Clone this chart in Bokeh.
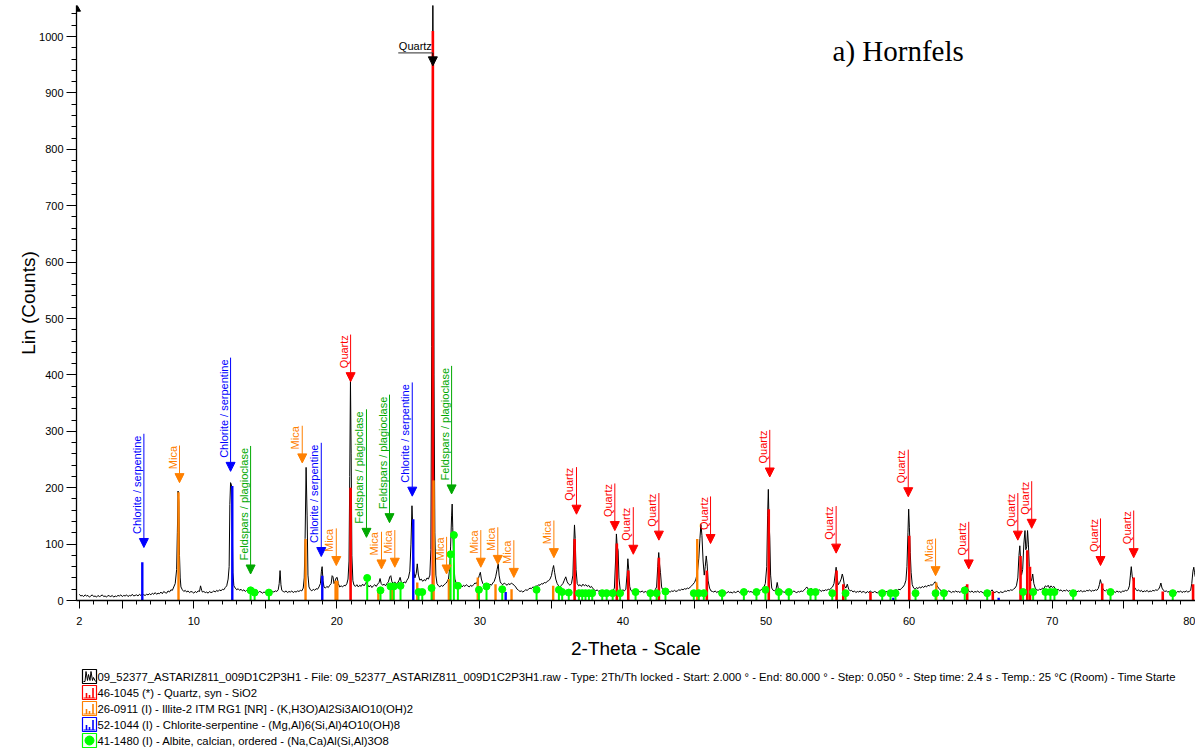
import math
from bokeh.plotting import figure
from bokeh.models import (Range1d, FixedTicker, CustomJSTickFormatter, Arrow,
                          NormalHead, ColumnDataSource)
from bokeh.layouts import column
from bokeh.core.properties import value
from bokeh.embed import file_html
from bokeh.resources import INLINE

# ---------------- measured pattern (2-theta, counts) ----------------
pattern_low = [(2.0,11),(2.1,8),(2.2,9),(2.3,7),(2.4,10),(2.5,8),(2.6,9),(2.7,6),(2.8,8),(2.9,10),(3.0,7),(3.1,8),(3.2,6),(3.3,9),(3.4,7),(3.5,8),(3.6,10),(3.7,7),(3.8,8),(3.9,6),(4.0,9),(4.1,8),(4.2,7),(4.3,9),(4.4,6),(4.5,8),(4.6,7),(4.7,9),(4.8,8),(4.9,10),(5.0,7),(5.1,9),(5.2,8),(5.3,10),(5.4,7),(5.5,9),(5.6,8),(5.7,11),(5.8,8),(5.9,9),(6.0,10),(6.1,8),(6.2,11),(6.3,9),(6.4,12),(6.5,10),(6.6,9),(6.7,11),(6.8,10),(6.9,12),(7.0,10),(7.1,13),(7.2,11),(7.3,14),(7.4,11),(7.5,13),(7.6,12),(7.7,15),(7.8,12),(7.9,16),(8.0,14),(8.1,13),(8.2,17),(8.3,15),(8.4,19),(8.5,18),(8.6,24),(8.7,30),(8.8,55),(8.85,120),(8.9,194),(8.95,175),(9.0,80),(9.05,40),(9.1,24),(9.2,19),(9.3,16),(9.4,18),(9.5,15),(9.6,17),(9.7,14),(9.8,16),(9.9,15),(10.0,13),(10.1,16),(10.2,14),(10.3,17),(10.4,16),(10.47,26),(10.55,18),(10.6,15),(10.7,16),(10.8,14),(10.9,15),(11.0,13),(11.1,16),(11.2,14),(11.3,15),(11.4,17),(11.5,15),(11.6,18),(11.7,16),(11.8,19),(11.9,17),(12.0,20),(12.1,19),(12.2,23),(12.3,26),(12.4,38),(12.47,60),(12.52,170),(12.57,209),(12.63,205),(12.68,150),(12.73,50),(12.8,26),(12.9,22),(13.0,19),(13.1,21),(13.2,18),(13.3,20),(13.4,17),(13.5,19),(13.6,16),(13.7,18),(13.8,17),(13.9,19),(14.0,16),(14.1,18),(14.2,15),(14.3,17),(14.4,16),(14.5,14),(14.6,16),(14.7,15),(14.8,13),(14.9,15),(15.0,14),(15.1,16),(15.2,13),(15.3,15),(15.4,14),(15.5,16),(15.6,15),(15.7,17),(15.8,16),(15.9,19),(15.97,30),(16.03,53),(16.09,28),(16.15,18),(16.25,16),(16.35,15),(16.45,17),(16.55,14),(16.65,16),(16.75,15),(16.85,17),(16.95,14),(17.05,16),(17.15,15),(17.25,17),(17.35,16),(17.45,18),(17.55,17),(17.65,22),(17.72,40),(17.78,110),(17.85,236),(17.92,150),(17.98,45),(18.05,24),(18.15,19),(18.25,17),(18.35,20),(18.45,18),(18.55,21),(18.65,20),(18.75,24),(18.85,30),(18.92,52),(18.97,60),(19.03,35),(19.1,24),(19.2,22),(19.3,25),(19.4,23),(19.5,27),(19.6,30),(19.67,44),(19.73,42),(19.8,30),(19.87,34),(19.95,40),(20.02,41),(20.1,30),(20.2,24),(20.3,26),(20.4,24),(20.5,27),(20.6,26),(20.7,30),(20.78,38),(20.85,70),(20.9,220),(20.95,390),(21.0,260),(21.05,80),(21.12,35),(21.2,27)]

pattern_mid = [(21.3,25),(21.4,28),(21.5,24),(21.6,27),(21.7,25),(21.8,29),(21.9,26),(22.0,30),(22.07,33),(22.15,28),(22.25,24),(22.35,27),(22.45,23),(22.55,26),(22.65,28),(22.75,25),(22.85,29),(22.95,32),(23.02,39),(23.1,30),(23.2,27),(23.3,29),(23.4,26),(23.5,30),(23.6,33),(23.7,42),(23.77,44),(23.85,33),(23.95,30),(24.05,33),(24.15,29),(24.25,31),(24.35,36),(24.42,41),(24.5,33),(24.6,30),(24.7,33),(24.8,31),(24.9,36),(25.0,40),(25.1,52),(25.18,100),(25.25,168),(25.32,120),(25.38,55),(25.45,40),(25.55,48),(25.62,65),(25.7,45),(25.8,36),(25.9,38),(26.0,34),(26.1,37),(26.2,35),(26.3,40),(26.4,38),(26.5,45),(26.57,90),(26.63,450),(26.67,850),(26.71,1100),(26.75,850),(26.79,400),(26.85,120),(26.92,45),(27.0,30),(27.1,26),(27.2,24),(27.3,27),(27.4,25),(27.5,28),(27.6,30),(27.7,33),(27.8,38),(27.88,55),(27.95,95),(28.02,150),(28.06,171),(28.1,130),(28.16,70),(28.25,38),(28.35,30),(28.45,27),(28.55,25),(28.65,28),(28.75,24),(28.85,27),(28.95,25),(29.05,28),(29.15,26),(29.25,24),(29.35,27),(29.45,25),(29.55,28),(29.65,31),(29.75,30),(29.85,35),(29.95,44),(30.03,50),(30.1,38),(30.2,30),(30.3,27),(30.4,25),(30.5,28),(30.6,26),(30.7,29),(30.8,27),(30.9,31),(31.0,34),(31.1,42),(31.2,55),(31.28,65),(31.34,45),(31.42,33),(31.5,30),(31.6,28),(31.7,31),(31.8,29),(31.9,27),(32.0,30),(32.1,28),(32.2,31),(32.3,29),(32.4,27),(32.5,24),(32.6,20),(32.7,18),(32.8,16),(32.9,17),(33.0,15),(33.1,17),(33.2,19),(33.3,18),(33.4,20),(33.5,22),(33.6,21),(33.7,24),(33.8,23),(33.9,26),(34.0,25),(34.1,28),(34.2,27),(34.3,30),(34.4,29),(34.5,32),(34.6,31),(34.7,34),(34.8,35),(34.9,38),(35.0,44),(35.08,55),(35.15,62),(35.22,50),(35.3,38),(35.4,30),(35.5,26),(35.6,24),(35.7,27),(35.8,30),(35.9,36),(36.0,42),(36.1,33),(36.2,29),(36.3,27),(36.4,30),(36.5,45),(36.56,100),(36.61,134),(36.66,110),(36.72,55),(36.8,30),(36.9,26),(37.0,28),(37.1,25),(37.2,29),(37.3,26),(37.4,28),(37.5,25),(37.6,27),(37.7,23),(37.8,25),(37.9,21),(38.0,19),(38.1,17),(38.2,19),(38.3,16),(38.4,18),(38.5,15),(38.6,17),(38.7,16),(38.8,18),(38.9,16),(39.0,17),(39.1,15),(39.2,18),(39.3,17),(39.4,22),(39.48,70),(39.54,118),(39.6,95),(39.66,89),(39.72,40),(39.8,20),(39.9,17),(40.0,19),(40.1,17),(40.2,20),(40.28,45),(40.34,74),(40.4,55),(40.47,25),(40.55,18),(40.65,16)]

pattern_high = [(40.75,17),(40.85,15),(40.95,17),(41.05,14),(41.15,16),(41.25,15),(41.35,17),(41.45,14),(41.55,16),(41.65,15),(41.75,17),(41.85,16),(41.95,15),(42.05,17),(42.15,16),(42.25,19),(42.35,24),(42.43,60),(42.5,85),(42.56,64),(42.62,50),(42.7,24),(42.8,17),(42.9,15),(43.0,17),(43.1,14),(43.2,16),(43.3,15),(43.4,17),(43.5,16),(43.6,18),(43.7,16),(43.8,17),(43.9,19),(44.0,18),(44.1,20),(44.2,19),(44.3,21),(44.4,20),(44.5,22),(44.6,21),(44.7,24),(44.8,26),(44.9,29),(45.0,32),(45.1,38),(45.2,50),(45.3,75),(45.38,110),(45.45,135),(45.52,115),(45.6,70),(45.68,45),(45.75,60),(45.82,79),(45.88,65),(45.95,35),(46.05,22),(46.15,17),(46.25,16),(46.35,15),(46.45,17),(46.55,14),(46.65,16),(46.75,15),(46.85,17),(46.95,14),(47.05,16),(47.15,15),(47.25,13),(47.35,16),(47.45,14),(47.55,15),(47.65,13),(47.75,16),(47.85,14),(47.95,15),(48.05,17),(48.15,14),(48.25,16),(48.35,15),(48.45,13),(48.55,16),(48.65,14),(48.75,17),(48.85,15),(48.95,16),(49.05,14),(49.15,17),(49.25,15),(49.35,16),(49.45,18),(49.55,17),(49.65,19),(49.75,21),(49.85,24),(49.95,30),(50.05,60),(50.11,150),(50.16,197),(50.21,140),(50.26,112),(50.32,45),(50.4,22),(50.5,18),(50.6,17),(50.7,20),(50.78,32),(50.85,22),(50.95,16),(51.05,15),(51.15,17),(51.25,14),(51.35,16),(51.45,15),(51.55,13),(51.65,16),(51.75,14),(51.85,15),(51.95,17),(52.05,15),(52.15,14),(52.25,16),(52.35,15),(52.45,17),(52.55,16),(52.65,18),(52.75,21),(52.85,24),(52.95,20),(53.05,18),(53.15,22),(53.25,17),(53.35,19),(53.45,16),(53.55,18),(53.65,17),(53.75,19),(53.85,16),(53.95,18),(54.05,17),(54.15,19),(54.25,18),(54.35,20),(54.45,19),(54.55,22),(54.65,24),(54.75,30),(54.83,45),(54.9,59),(54.97,40),(55.05,28),(55.15,32),(55.25,38),(55.33,47),(55.4,40),(55.48,26),(55.58,22),(55.68,29),(55.78,20),(55.88,17),(55.98,18),(56.08,15),(56.18,17),(56.28,14),(56.38,16),(56.48,15),(56.58,17),(56.68,14),(56.78,16),(56.88,15),(56.98,13),(57.08,16),(57.18,14),(57.28,17),(57.38,15),(57.48,14),(57.58,16),(57.68,15),(57.78,13),(57.88,16),(57.98,14),(58.08,15),(58.18,17),(58.28,14),(58.38,16),(58.48,15),(58.58,17),(58.68,16),(58.78,18),(58.88,16),(58.98,17),(59.08,19),(59.18,18),(59.28,20),(59.38,19),(59.48,22),(59.58,24),(59.68,28),(59.78,36),(59.85,60),(59.92,120),(59.97,162),(60.02,130),(60.08,85),(60.14,50),(60.22,28),(60.32,22),(60.42,20),(60.52,23),(60.62,21),(60.72,24),(60.82,22),(60.92,25),(61.02,23),(61.12,26),(61.22,24),(61.32,27),(61.42,26),(61.52,28),(61.62,27),(61.72,30),(61.8,33),(61.88,32),(61.96,26),(62.06,22),(62.16,19),(62.26,17),(62.36,18),(62.46,16),(62.56,17),(62.66,15),(62.76,17),(62.86,16),(62.96,14),(63.06,16),(63.16,15),(63.26,17),(63.36,15),(63.46,16),(63.56,14),(63.66,17),(63.76,16),(63.86,19),(63.94,24),(64.02,27),(64.1,20),(64.2,16),(64.3,15),(64.4,17),(64.5,14),(64.6,16),(64.7,15),(64.8,17),(64.9,14),(65.0,16),(65.1,15),(65.2,13),(65.3,16),(65.4,14),(65.5,17),(65.6,15),(65.7,16),(65.8,19),(65.9,15),(66.0,14),(66.1,16),(66.2,15),(66.3,13),(66.4,16),(66.5,14),(66.6,15),(66.7,17),(66.8,16),(66.9,18),(67.0,17),(67.1,19),(67.2,18),(67.3,20),(67.4,22),(67.5,26),(67.6,40),(67.68,80),(67.74,97),(67.8,70),(67.86,45),(67.94,55),(68.02,100),(68.1,124),(68.16,90),(68.22,95),(68.28,124),(68.34,100),(68.4,60),(68.48,40),(68.56,35),(68.64,47),(68.72,30),(68.82,22),(68.92,19),(69.02,18),(69.12,20),(69.22,19),(69.32,22),(69.42,21),(69.52,26),(69.62,24),(69.72,27),(69.82,22),(69.92,26),(70.02,23),(70.12,25),(70.22,21),(70.32,19),(70.42,20),(70.52,17),(70.62,19),(70.72,16),(70.82,18),(70.92,17),(71.02,19),(71.12,16),(71.22,18),(71.32,15),(71.42,17),(71.52,16),(71.62,18),(71.72,15),(71.82,17),(71.92,16),(72.02,18),(72.12,15),(72.22,17),(72.32,16),(72.42,18),(72.52,17),(72.62,19),(72.72,16),(72.82,18),(72.92,17),(73.02,19),(73.12,18),(73.22,21),(73.3,28),(73.37,37),(73.44,30),(73.52,22),(73.62,18),(73.72,17),(73.82,19),(73.92,16),(74.02,18),(74.12,15),(74.22,17),(74.32,16),(74.42,14),(74.52,17),(74.62,15),(74.72,16),(74.82,14),(74.92,17),(75.02,16),(75.12,18),(75.22,17),(75.32,20),(75.4,26),(75.47,45),(75.53,60),(75.6,42),(75.66,38),(75.74,24),(75.84,20),(75.94,17),(76.04,19),(76.14,16),(76.24,18),(76.34,15),(76.44,17),(76.54,16),(76.64,18),(76.74,15),(76.84,17),(76.94,16),(77.04,18),(77.14,17),(77.24,19),(77.34,18),(77.44,20),(77.52,24),(77.6,31),(77.68,22),(77.78,18),(77.88,16),(77.98,17),(78.08,15),(78.18,16),(78.28,14),(78.38,16),(78.48,15),(78.58,17),(78.68,14),(78.78,16),(78.88,15),(78.98,17),(79.08,14),(79.18,16),(79.28,15),(79.38,17),(79.48,15),(79.58,16),(79.68,18),(79.76,30),(79.84,52),(79.9,59),(79.95,50),(80.0,42)]

# ---------------- reference stick patterns ----------------
quartz_2theta = [20.96, 26.71, 36.62, 39.57, 40.37, 42.51, 45.86, 50.19, 54.93, 55.4, 57.3, 60.01, 64.06, 65.85, 67.79, 68.26, 68.45, 73.5, 75.7, 77.73, 79.85]
quartz_counts = [200, 1010, 109, 101, 53, 76, 53, 162, 53, 29, 15, 115, 29, 16, 79, 89, 60, 30, 41, 16, 29]

illite_2theta = [8.93, 17.81, 19.91, 20.03, 22.9, 23.87, 25.62, 26.76, 27.83, 29.85, 31.09, 32.21, 35.12, 45.19, 61.9]
illite_counts = [192, 109, 35, 35, 21, 26, 32, 213, 38, 41, 29, 20, 26, 109, 32]

chlorite_2theta = [6.40, 12.69, 18.98, 25.34, 31.8, 58.9, 66.26]
chlorite_counts = [68, 203, 44, 144, 15, 5, 5]

albite_2theta = [13.97, 14.25, 15.25, 22.12, 23.05, 23.75, 23.98, 24.45, 25.71, 25.97, 26.62, 27.95, 28.18, 28.46, 29.93, 30.46, 31.56, 33.96, 35.52, 35.75, 36.21, 36.92, 37.15, 37.38, 37.62, 37.85, 38.55, 38.86, 39.28, 39.8, 40.88, 41.92, 42.35, 42.97, 44.95, 45.3, 45.65, 46.93, 48.45, 49.33, 49.96, 50.89, 51.59, 53.11, 53.46, 54.63, 55.56, 58.12, 58.7, 59.05, 60.45, 61.85, 62.43, 63.89, 65.46, 67.97, 68.67, 69.53, 69.88, 70.16, 71.47, 74.08, 78.43]
albite_counts = [18, 14, 14, 40, 18, 25, 25, 26, 15, 15, 22, 82, 116, 26, 19, 25, 20, 19, 19, 15, 14, 13, 13, 13, 13, 13, 13, 13, 13, 13, 15, 13, 13, 16, 13, 13, 13, 13, 15, 15, 19, 15, 15, 15, 15, 13, 13, 13, 13, 13, 13, 13, 13, 18, 13, 15, 15, 15, 15, 15, 13, 15, 13]

# ---------------- peak annotations ----------------
ann_2theta = [6.51, 9.0, 12.57, 13.97, 17.58, 18.91, 19.96, 20.96, 22.07, 23.12, 23.68, 24.05, 25.27, 27.67, 28.02, 30.06, 31.25, 32.37, 35.17, 36.75, 39.43, 40.72, 42.51, 46.12, 50.26, 54.9, 59.94, 61.85, 64.17, 67.6, 68.57, 73.38, 75.7]
ann_tip = [94, 209, 229, 47, 244, 78, 62, 388, 112, 56, 138, 59, 185, 47, 189, 59, 64, 41, 76, 153, 124, 82, 107, 101, 219, 84, 184, 44, 56, 107, 128, 62, 76]
ann_mineral = ["C","M","C","F","M","C","M","Q","F","M","F","M","C","M","F","M","M","M","M","Q","Q","Q","Q","Q","Q","Q","Q","M","Q","Q","Q","Q","Q"]
mineral_text = {"Q": "Quartz", "M": "Mica", "C": "Chlorite / serpentine", "F": "Feldspars / plagioclase"}
main_peak_label = "Quartz"
main_peak_2theta = 26.71
main_peak_tip = 948

x_major = [2, 5, 10, 15, 20, 25, 30, 35, 40, 45, 50, 55, 60, 65, 70, 75, 80]
x_minor = list(range(2, 81))
y_major = list(range(0, 1001, 100))
y_minor = list(range(0, 1041, 20))

legend_texts = [
    "09_52377_ASTARIZ811_009D1C2P3H1 - File: 09_52377_ASTARIZ811_009D1C2P3H1.raw - Type: 2Th/Th locked - Start: 2.000 \u00b0 - End: 80.000 \u00b0 - Step: 0.050 \u00b0 - Step time: 2.4 s - Temp.: 25 \u00b0C (Room) - Time Starte",
    "46-1045 (*) - Quartz, syn - SiO2",
    "26-0911 (I) - Illite-2 ITM RG1 [NR] - (K,H3O)Al2Si3AlO10(OH)2",
    "52-1044 (I) - Chlorite-serpentine - (Mg,Al)6(Si,Al)4O10(OH)8",
    "41-1480 (I) - Albite, calcian, ordered - (Na,Ca)Al(Si,Al)3O8",
]
title_text = "a) Hornfels"

assert len(albite_2theta) == len(albite_counts)
assert len(quartz_2theta) == len(quartz_counts)
assert len(illite_2theta) == len(illite_counts)
assert len(ann_2theta) == len(ann_tip) == len(ann_mineral)

# ---------------- styles ----------------
RED, ORANGE, BLUE, LIME, FGREEN = "#FF0000", "#FF8000", "#0000FF", "#00FF00", "#00A800"
mineral_color = {"Q": RED, "M": ORANGE, "C": BLUE, "F": FGREEN}
FONT = "Liberation Sans"

W, H = 1195, 665
TOP, BOTTOM, LEFT = 5, 65, 76
X0, X1 = 1.80, 80.02
Y0, Y1 = 0, 1055
ppc = (H - TOP - BOTTOM) / (Y1 - Y0)      # pixels per count
ppd = (W - LEFT) / (X1 - X0)              # pixels per degree

p = figure(width=W, height=H, x_range=Range1d(X0, X1), y_range=Range1d(Y0, Y1),
           output_backend="svg", toolbar_location=None,
           min_border_left=LEFT, min_border_right=0, min_border_top=TOP,
           min_border_bottom=BOTTOM)
p.grid.visible = False
p.outline_line_color = None
p.background_fill_color = "white"

for ax in (p.xaxis[0], p.yaxis[0]):
    ax.axis_line_color = "black"
    ax.major_tick_line_color = "black"
    ax.minor_tick_line_color = "black"
    ax.major_tick_in = 0
    ax.minor_tick_in = 0
    ax.major_label_text_font = FONT
    ax.major_label_text_font_size = "11px"
    ax.major_label_text_color = "black"
    ax.axis_label_text_font = FONT
    ax.axis_label_text_font_size = "19px"
    ax.axis_label_text_font_style = "normal"
    ax.axis_label_text_color = "black"

xa = p.xaxis[0]
xa.ticker = FixedTicker(ticks=x_major, minor_ticks=x_minor)
xa.formatter = CustomJSTickFormatter(code="return (tick == 2 || tick % 10 == 0) ? tick.toFixed(0) : '';")
xa.major_tick_out = 8
xa.minor_tick_out = 4
xa.major_label_standoff = 8
xa.axis_label = "2-Theta - Scale"
xa.axis_label_standoff = 10
xa.axis_line_width = 1.3

ya = p.yaxis[0]
ya.ticker = FixedTicker(ticks=y_major, minor_ticks=y_minor)
ya.major_tick_out = 10
ya.minor_tick_out = 5
ya.major_label_standoff = 3
ya.axis_label = "Lin (Counts)"
ya.axis_label_standoff = -3
ya.axis_line_width = 1.3

# axis end arrow (half clipped by the frame, like the original)
p.scatter(x=[X0], y=[Y1 - 6], marker="triangle", size=8, color="black")

# ---------------- measured pattern ----------------
pts = pattern_low + pattern_mid + pattern_high
p.line(x=[a for a, b in pts], y=[b for a, b in pts], line_color="black", line_width=1)

# ---------------- sticks ----------------
def sticks(tt, cc, color, width):
    p.segment(x0=tt, y0=[0] * len(tt), x1=tt, y1=cc, line_color=color, line_width=width)

sticks(quartz_2theta, quartz_counts, RED, 2.6)
sticks(illite_2theta, illite_counts, ORANGE, 2.4)
sticks(chlorite_2theta, chlorite_counts, BLUE, 2.4)
sticks(albite_2theta, albite_counts, LIME, 2.0)
p.scatter(x=albite_2theta, y=albite_counts, size=7, color=LIME)

# ---------------- annotations ----------------
cw = {'C': .722, 'h': .556, 'l': .222, 'o': .556, 'r': .333, 'i': .222, 't': .278, 'e': .556,
      ' ': .278, '/': .278, 's': .5, 'p': .556, 'n': .556, 'M': .833, 'c': .5, 'a': .556,
      'F': .611, 'd': .556, 'g': .556, 'Q': .778, 'u': .556, 'z': .5}
LBL = 11.2
def text_len(s):
    return sum(cw.get(ch, .556) for ch in s) * LBL

GAP = 13.5
for code in ["C", "M", "Q", "F"]:
    idx = [i for i, m in enumerate(ann_mineral) if m == code]
    xs = [ann_2theta[i] for i in idx]
    tips = [ann_tip[i] for i in idx]
    L = text_len(mineral_text[code])
    tops = [t + (GAP + L) / ppc for t in tips]
    src = ColumnDataSource(dict(x=xs, ys=tops, ye=tips,
                                text=[mineral_text[code]] * len(xs)))
    col = mineral_color[code]
    p.add_layout(Arrow(end=NormalHead(size=9, fill_color=col, line_color=col, line_width=1),
                       x_start="x", y_start="ys", x_end="x", y_end="ye",
                       line_color=col, line_width=1, source=src))
    p.text(x="x", y="ye", text="text", source=src, angle=math.pi / 2,
           text_align="left", text_baseline="bottom", x_offset=-1, y_offset=-GAP,
           text_color=col, text_font=value(FONT), text_font_size=value("11px"))

# main quartz peak label (horizontal, underlined)
top_y = main_peak_tip + 13 / ppc
ql = text_len(main_peak_label)
p.segment(x0=[main_peak_2theta - (ql + 1) / ppd], y0=[top_y], x1=[main_peak_2theta], y1=[top_y],
          line_color="#555555", line_width=1.2)
p.add_layout(Arrow(end=NormalHead(size=9, fill_color="black", line_color="black"),
                   x_start=main_peak_2theta, y_start=top_y, x_end=main_peak_2theta,
                   y_end=main_peak_tip, line_color="black", line_width=1))
p.text(x=[main_peak_2theta], y=[top_y], text=[main_peak_label], text_align="right",
       text_baseline="bottom", x_offset=-1, y_offset=-1, text_color="black",
       text_font=value(FONT), text_font_size=value("11px"))

# panel title
p.text(x=[54.65], y=[975], text=[title_text], text_align="left", text_baseline="middle",
       text_color="black", text_font=value("Liberation Serif"), text_font_size=value("29px"))

# ---------------- legend strip (pixel coordinates) ----------------
LH = 755 - H
q = figure(width=W, height=LH, x_range=Range1d(LEFT, W), y_range=Range1d(LH, 0),
           output_backend="svg", toolbar_location=None, min_border=0,
           min_border_left=LEFT, min_border_right=0,
           x_axis_location=None, y_axis_location=None)
q.grid.visible = False
q.outline_line_color = None

rows = [11, 27, 43, 59, 75]
icon_cols = ["black", RED, ORANGE, BLUE, LIME]
IX = 89
q.rect(x=[IX] * 5, y=rows, width=14, height=14, fill_color="white", line_color=icon_cols, line_width=1.2)
# pattern icon (zig-zag)
zx = [-6, -4.5, -3.5, -2, -1, 0.5, 1.5, 3, 4, 6]
zy = [5, 5, -5, 4, -2, 4, -5, 4, 1, 5]
q.line(x=[IX + a for a in zx], y=[rows[0] + b for b in zy], line_color="black", line_width=1)
# stick icons
for r, c in zip(rows[1:4], icon_cols[1:4]):
    q.segment(x0=[IX - 6], y0=[r + 5.5], x1=[IX + 6], y1=[r + 5.5], line_color=c, line_width=1)
    q.segment(x0=[IX - 3, IX, IX + 3.5], y0=[r + 5.5] * 3, x1=[IX - 3, IX, IX + 3.5],
              y1=[r + 0.5, r + 2.5, r - 4.5], line_color=c, line_width=1.6)
q.scatter(x=[IX], y=[rows[4]], size=9, color=LIME)
q.text(x=[97] * 5, y=rows, text=legend_texts, text_align="left", text_baseline="middle",
       text_color="black", text_font=value(FONT), text_font_size=value("11.3px"))

layout = column(p, q, spacing=0)
open("out.html", "w").write(file_html(layout, INLINE))
